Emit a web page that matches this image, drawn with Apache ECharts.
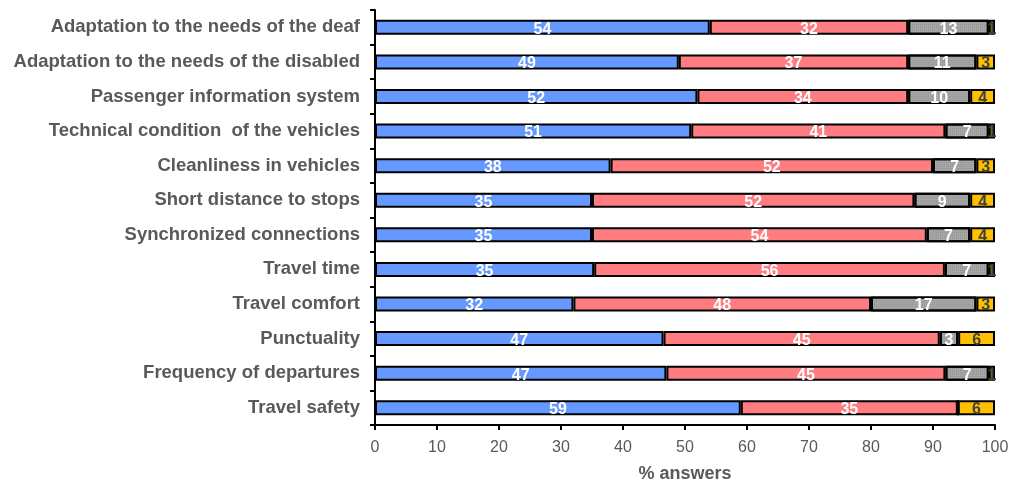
<!DOCTYPE html>
<html>
<head>
<meta charset="utf-8">
<script src="https://cdn.jsdelivr.net/npm/echarts@6/dist/echarts.min.js"></script>
<style>
  html, body { margin: 0; padding: 0; background: #fff; }
  #chart { width: 1014px; height: 484px; }
</style>
</head>
<body>
<div id="chart"></div>
<script>
// categories top to bottom
const categories = [
  'Adaptation to the needs of the deaf',
  'Adaptation to the needs of the disabled',
  'Passenger information system',
  'Technical condition  of the vehicles',
  'Cleanliness in vehicles',
  'Short distance to stops',
  'Synchronized connections',
  'Travel time',
  'Travel comfort',
  'Punctuality',
  'Frequency of departures',
  'Travel safety'
]
const blueVals = [54, 49, 52, 51, 38, 35, 35, 35, 32, 47, 47, 59]
const redVals = [32, 37, 34, 41, 52, 52, 54, 56, 48, 45, 45, 35]
const grayVals = [13, 11, 10, 7, 7, 9, 7, 7, 17, 3, 7, 0]
const yellowVals = [1, 3, 4, 1, 3, 4, 4, 1, 3, 6, 1, 6]
const xTicks = [0, 10, 20, 30, 40, 50, 60, 70, 80, 90, 100]

const totals = categories.map((c, i) => blueVals[i] + redVals[i] + grayVals[i] + yellowVals[i])
const font = 'Liberation Sans, Arial, sans-serif'

// 100% stacked: scale each row to its total, label shows the raw value
function makeSeries (name, vals, color, labelColor, extra) {
  return {
    name: name,
    type: 'bar',
    stack: 'all',
    barWidth: 15,
    data: vals.map((v, i) => ({ value: v / totals[i] * 100, raw: v })),
    itemStyle: Object.assign({ color: color, borderColor: '#000', borderWidth: 2 }, extra || {}),
    label: {
      show: true,
      position: 'inside',
      offset: [0, 2],
      color: labelColor,
      fontFamily: font,
      fontWeight: 'bold',
      fontSize: 16,
      formatter: p => (p.data.raw ? String(p.data.raw) : '')
    }
  }
}

const chart = echarts.init(document.getElementById('chart'))
chart.setOption({
  animation: false,
  grid: { left: 375, right: 19, top: 10, bottom: 59, outerBoundsMode: 'none' },
  xAxis: {
    type: 'value',
    min: 0,
    max: 100,
    interval: 10,
    splitLine: { show: false },
    axisLine: { show: true, lineStyle: { color: '#000', width: 2 } },
    axisTick: { show: true, length: 5, lineStyle: { color: '#000', width: 2 } },
    axisLabel: {
      color: '#595959',
      fontSize: 16,
      fontFamily: font,
      margin: 15,
      formatter: v => (xTicks.indexOf(v) >= 0 ? String(v) : '')
    },
    name: '% answers',
    nameLocation: 'middle',
    nameGap: 40,
    nameTextStyle: {
      color: '#595959',
      fontSize: 18,
      fontWeight: 'bold',
      fontFamily: font
    }
  },
  yAxis: {
    type: 'category',
    inverse: true,
    data: categories,
    axisLine: { show: true, lineStyle: { color: '#000', width: 2 } },
    axisTick: { show: true, length: 5, lineStyle: { color: '#000', width: 2 } },
    axisLabel: {
      color: '#595959',
      fontSize: 18.5,
      fontWeight: 'bold',
      fontFamily: font,
      margin: 15
    }
  },
  series: [
    makeSeries('blue', blueVals, '#6699ff', '#fff'),
    makeSeries('red', redVals, '#ff7c80', '#fff'),
    makeSeries('gray', grayVals, '#a6a6a6', '#fff', {
      decal: {
        symbol: 'rect',
        symbolSize: 1,
        dashArrayX: [1, 1],
        dashArrayY: [1, 1],
        color: 'rgba(80,80,80,0.2)'
      }
    }),
    makeSeries('yellow', yellowVals, '#ffc000', '#404040')
  ]
})
</script>
</body>
</html>
